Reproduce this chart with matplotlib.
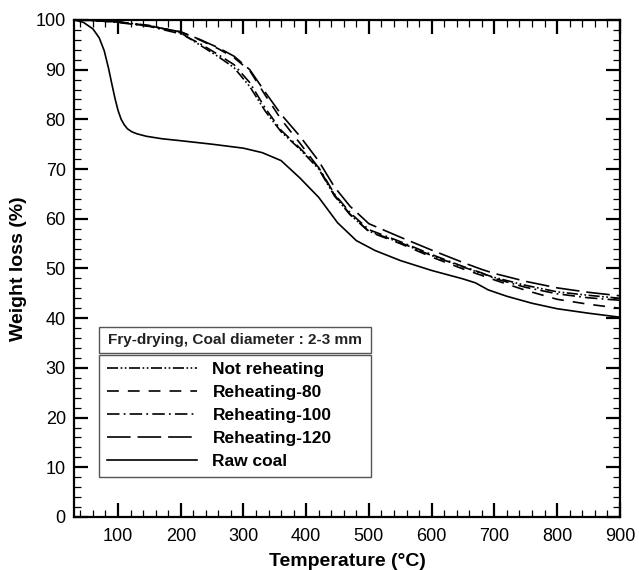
import matplotlib
matplotlib.use("Agg")
import matplotlib.pyplot as plt
from matplotlib.ticker import MultipleLocator
from matplotlib.patches import Rectangle

plt.rcParams['font.family'] = ['Liberation Sans', 'DejaVu Sans']
plt.rcParams['lines.scale_dashes'] = False

# ---- data ----
temp_raw = [30, 45, 60, 70, 78, 85, 90, 95, 100, 105, 110, 115, 122, 130, 145, 170, 200, 250, 300, 330,
            360, 390, 420, 450, 480, 510, 550, 600, 650, 670, 690, 720, 760, 800, 850, 900]
raw_coal = [100, 99.5, 98.2, 96.4, 93.8, 90.2, 87.2, 84.3, 81.8, 80.0, 78.9, 78.1, 77.5, 77.1, 76.6, 76.1,
            75.7, 75.0, 74.2, 73.3, 71.7, 68.2, 64.3, 59.2, 55.6, 53.6, 51.6, 49.6, 47.9, 47.1, 45.7,
            44.4, 43.0, 41.9, 41.0, 40.2]

temp = [30, 60, 100, 150, 200, 230, 260, 285, 310, 335, 360, 390, 420, 445, 470,
        500, 550, 600, 650, 680, 700, 750, 800, 850, 900]
not_reheating = [100, 99.9, 99.6, 98.9, 97.4, 95.0, 92.6, 90.4, 86.6, 81.6, 77.5, 74.0, 70.0, 64.6, 60.8,
                 57.5, 55.2, 52.6, 50.3, 49.0, 48.2, 46.6, 45.3, 44.6, 44.0]
reheating_80 = [100, 99.9, 99.6, 98.8, 97.6, 96.0, 94.2, 92.4, 89.8, 84.8, 80.0, 75.2, 70.2, 64.8, 60.9,
                57.4, 55.0, 52.3, 49.9, 48.6, 47.7, 45.6, 43.8, 42.8, 42.0]
reheating_100 = [100, 99.9, 99.5, 98.7, 97.2, 95.3, 93.0, 91.0, 87.4, 82.2, 77.8, 74.2, 70.3, 65.0, 61.2,
                 57.8, 55.4, 52.8, 50.4, 49.1, 48.0, 46.2, 44.9, 44.1, 43.6]
reheating_120 = [100, 99.9, 99.6, 98.8, 97.6, 96.1, 94.4, 92.7, 90.0, 85.4, 81.0, 76.6, 71.6, 66.4, 62.5,
                 59.0, 56.3, 53.7, 51.2, 49.8, 49.0, 47.4, 46.1, 45.2, 44.5]

labels = ["Not reheating", "Reheating-80", "Reheating-100", "Reheating-120", "Raw coal"]
legend_title = "Fry-drying, Coal diameter : 2-3 mm"

# ---- figure ----
fig = plt.figure(figsize=(6.39, 5.70), dpi=100)
ax = fig.add_axes([0.116, 0.093, 0.854, 0.872])

lw = 1.2
ax.plot(temp, not_reheating, color='black', lw=lw, dashes=(8, 1.8, 1.2, 1.8, 1.2, 1.8), label=labels[0])
ax.plot(temp, reheating_80, color='black', lw=lw, dashes=(8.5, 6.5), label=labels[1])
ax.plot(temp, reheating_100, color='black', lw=lw, dashes=(9, 3, 1.3, 3), label=labels[2])
ax.plot(temp, reheating_120, color='black', lw=lw, dashes=(17, 5), label=labels[3])
ax.plot(temp_raw, raw_coal, color='black', lw=lw, label=labels[4])

ax.set_xlim(30, 900)
ax.set_ylim(0, 100)
ax.xaxis.set_major_locator(MultipleLocator(100))
ax.xaxis.set_minor_locator(MultipleLocator(20))
ax.yaxis.set_major_locator(MultipleLocator(10))
ax.yaxis.set_minor_locator(MultipleLocator(2))
ax.tick_params(which='both', direction='in', top=True, right=True, labelsize=13)
ax.tick_params(which='major', length=10, width=1.6)
ax.tick_params(which='minor', length=5, width=0.9)
ax.tick_params(axis='x', pad=8)
ax.tick_params(axis='y', pad=6)
for s in ax.spines.values():
    s.set_linewidth(1.6)

ax.set_xlabel("Temperature (°C)", fontsize=14, fontweight='bold', labelpad=6)
ax.set_ylabel("Weight loss (%)", fontsize=14, fontweight='bold', labelpad=6)

ax.add_patch(Rectangle((0.046, 0.3306), 0.4975, 0.0511, transform=ax.transAxes,
                       fc='white', ec='#555555', lw=1.0, zorder=5))
ax.text(0.294, 0.357, legend_title, transform=ax.transAxes, ha='center', va='center',
        fontsize=11.1, fontweight='bold', color='#222222', zorder=6)

leg = ax.legend(loc='upper left', bbox_to_anchor=(0.046, 0.081, 0.4975, 0.245), mode='expand',
                frameon=True, fancybox=False, edgecolor='#555555', framealpha=1,
                prop=dict(size=12.5, weight='bold'), handlelength=5.2, handletextpad=0.9,
                labelspacing=0.45, borderpad=0.42, borderaxespad=0)
leg.get_frame().set_linewidth(1.0)

fig.savefig("out.png", dpi=100)
